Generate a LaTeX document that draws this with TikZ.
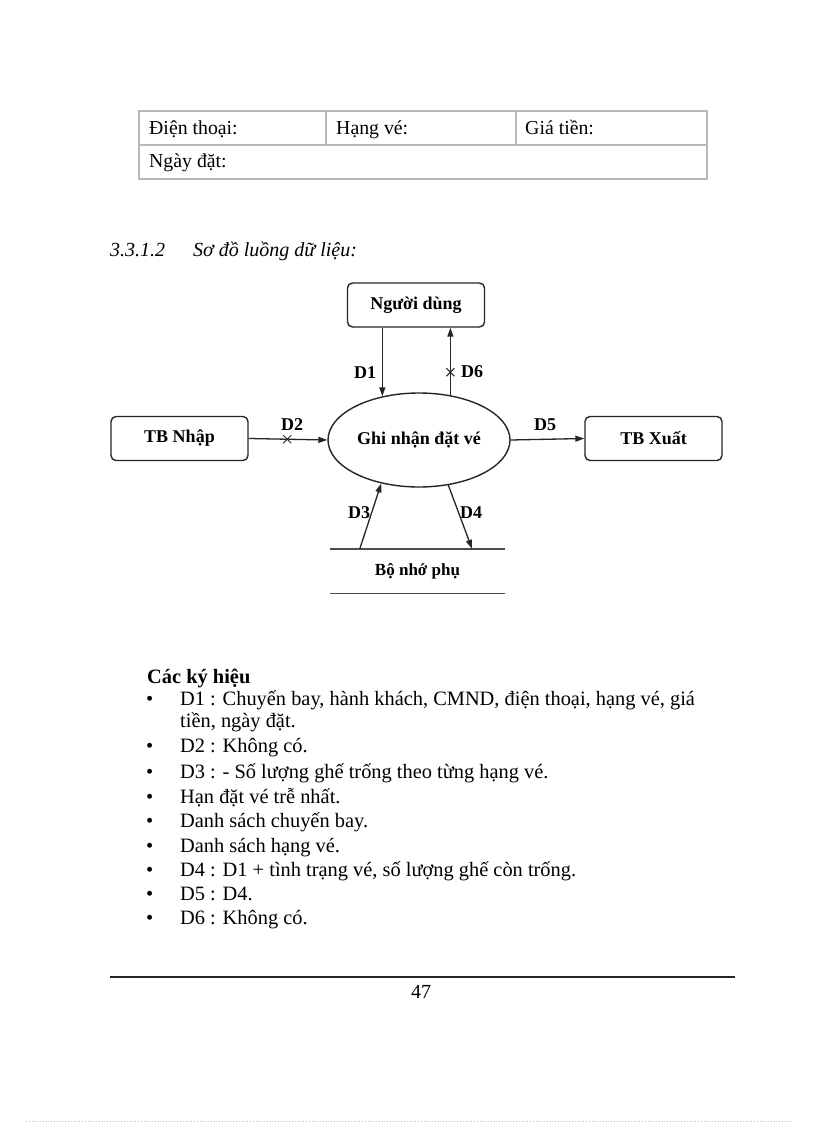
\documentclass[tikz,border=0pt]{standalone}
\usepackage{fontspec}
\setmainfont{Liberation Serif}
\usetikzlibrary{shapes.geometric,shapes.misc,arrows.meta,calc}
\begin{document}
\begin{tikzpicture}[x=1pt,y=-1pt,
  body/.style={anchor=base west,inner sep=0pt,font=\fontsize{20.4}{24}\selectfont},
  cell/.style={draw=gray!55,line width=1.4pt},
  ent/.style={draw=black!85,rounded corners=5pt,line width=1.4pt,minimum width=137pt,minimum height=44pt,inner sep=0pt,font=\bfseries\fontsize{18}{20}\selectfont},
  proc/.style={draw=black!85,ellipse,line width=1.4pt,minimum width=182pt,minimum height=94pt,inner sep=0pt,font=\bfseries\fontsize{18}{20}\selectfont},
  dlabel/.style={inner sep=0pt,font=\bfseries\fontsize{18}{20}\selectfont},
  flow/.style={draw=black!85,line width=1.3pt,-{Triangle[length=9pt,width=6pt]}},
  xmark/.style={cross out,draw,line width=1pt,minimum size=7pt,inner sep=0pt}]
\useasboundingbox[fill=white] (0,0) rectangle (816,1123);
% table
\draw[cell] (139,111) rectangle (707,179);
\draw[cell] (139,145) -- (707,145);
\draw[cell] (326,111) -- (326,145);
\draw[cell] (516,111) -- (516,145);
\node[body,font=\fontsize{19.8}{24}\selectfont] (t1) at (149,135) {Điện thoại:};
\node[body,font=\fontsize{19.8}{24}\selectfont] (t2) at (336,135) {Hạng vé:};
\node[body,font=\fontsize{19.8}{24}\selectfont] (t3) at (525,135) {Giá tiền:};
\node[body,font=\fontsize{19.8}{24}\selectfont] (t4) at (149,168) {Ngày đặt:};
% heading
\node[body,font=\itshape\fontsize{20}{24}\selectfont] (h1) at (110,256) {3.3.1.2};
\node[body,font=\itshape\fontsize{20}{24}\selectfont] (h2) at (193,256) {Sơ đồ luồng dữ liệu:};
% diagram
\node[ent] (user) at (416,305) {Người dùng};
\node[ent] (tbin) at (179.5,438.5) {TB Nhập};
\node[ent] (tbout) at (653.5,438.5) {TB Xuất};
\node[proc] (pr) at (419,440) {Ghi nhận đặt vé};
\node[inner sep=0pt,minimum width=175pt,minimum height=44pt,font=\bfseries\fontsize{17}{20}\selectfont] (store) at (417.5,571) {Bộ nhớ phụ};
\draw[line width=1.4pt,gray!60!black] (store.north west) -- (store.north east);
\draw[line width=1.4pt,gray!60!black] (store.south west) -- (store.south east);
\draw[flow] (user.south -| pr.130.7) -- (pr.130.7);
\draw[flow] (pr.55) -- node[pos=0.34,xmark]{} (pr.55 |- user.south);
\draw[flow] (tbin.east) -- node[pos=0.49,xmark]{} (pr.west);
\draw[flow] (pr.east) -- (tbout.west);
\draw[flow] ($(store.north west)!0.171!(store.north east)$) -- (pr.229.3);
\draw[flow] (pr.303.1) -- ($(store.north west)!0.811!(store.north east)$);
\node[dlabel] (l1) at (365,373) {D1};
\node[dlabel] (l6) at (472,372) {D6};
\node[dlabel] (l2) at (292,425) {D2};
\node[dlabel] (l5) at (545,425) {D5};
\node[dlabel] (l3) at (359,513) {D3};
\node[dlabel] (l4) at (471,513) {D4};
% legend
\node[body,font=\bfseries\fontsize{20.4}{24}\selectfont] (leg) at (147,683) {Các ký hiệu};
\foreach \y/\t [count=\i] in {
  705/{D1 : Chuyến bay, hành khách, CMND, điện thoại, hạng vé, giá},
  752/{D2 : Không có.},
  778/{D3 : - Số lượng ghế trống theo từng hạng vé.},
  803/{Hạn đặt vé trễ nhất.},
  827/{Danh sách chuyến bay.},
  852/{Danh sách hạng vé.},
  876/{D4 : D1 + tình trạng vé, số lượng ghế còn trống.},
  900/{D5 : D4.},
  924/{D6 : Không có.}}{
  \node[body] (b\i) at (146,\y) {\textbullet};
  \node[body] (s\i) at (180,\y) {\t};
}
\node[body] (s1b) at (180,727) {tiền, ngày đặt.};
% footer
\draw[line width=1.5pt,black!85] (110,977) -- (735,977);
\node[anchor=base,inner sep=0pt,font=\fontsize{20}{24}\selectfont] (pg) at (421,998) {47};
\draw[gray!50,dotted,line width=0.8pt] (26,1121) -- (792,1121);
\end{tikzpicture}
\end{document}
